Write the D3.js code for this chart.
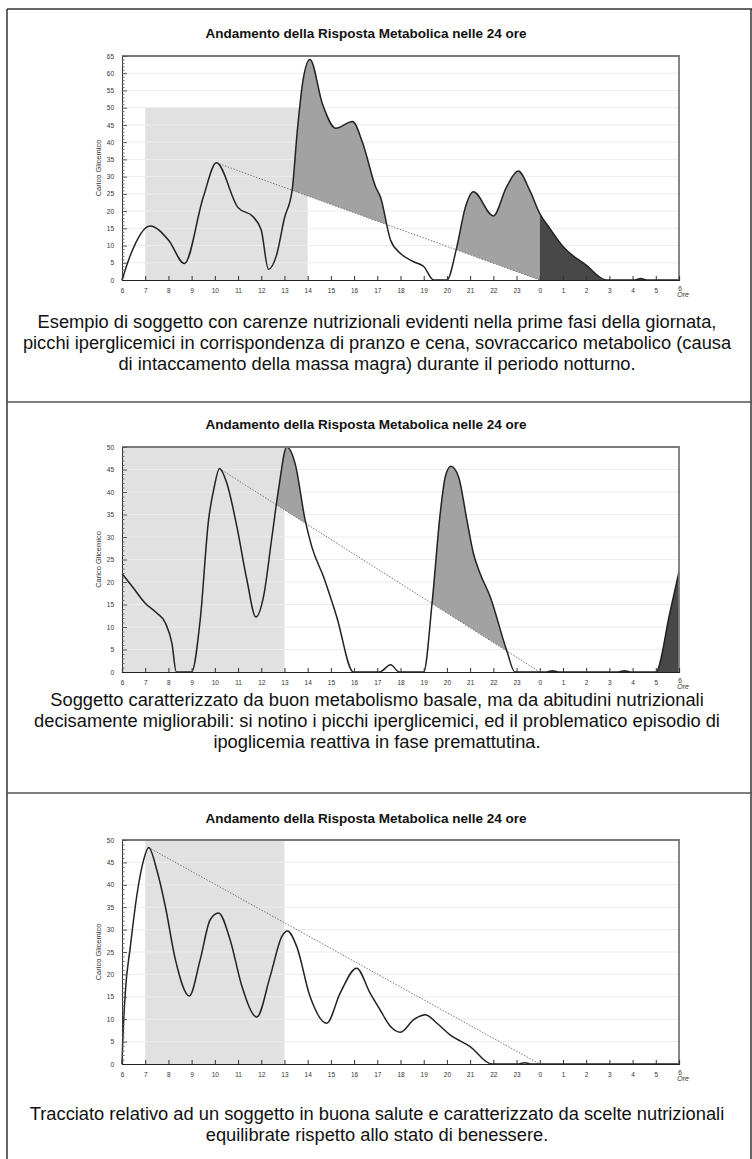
<!DOCTYPE html>
<html><head><meta charset="utf-8">
<script src="https://cdn.jsdelivr.net/npm/d3@7"></script>
<style>body{margin:0;background:#fff}svg{display:block}</style>
</head><body>
<svg id="c" width="752" height="1159"></svg>
<script>
// ---------- data ----------
const titleText = "Andamento della Risposta Metabolica nelle 24 ore";
const yAxisTitle = "Carico Glicemico";
const xUnit = "Ore";
const hourTicks = d3.range(6, 31);
const hourLabels = hourTicks.map(h => String(h % 24));

// Panel 1
const p1Hours = [6, 6.36, 7.21, 8, 8.69, 9.5, 10.07, 11, 11.64, 12, 12.31, 12.65, 13.0, 13.33, 13.55, 13.8, 14.1, 14.64, 15.21, 15.93, 16.36, 16.93, 17.14, 17.57, 18, 18.57, 19, 19.43, 20, 20.43, 20.79, 21.14, 22, 22.57, 23.07, 23.57, 24, 24.43, 25, 26, 26.86, 28.1, 28.35, 28.6, 30];
const p1Load  = [0, 7.2, 15.7, 11.6, 4.8, 24, 34, 21, 18.4, 14.5, 3.1, 7, 18, 26, 43, 58, 64, 51, 44, 46, 40, 27, 24, 11.6, 7.7, 5.3, 3.9, 0, 0, 9.7, 21, 25.6, 18.6, 27, 31.6, 26, 19.3, 15, 9.7, 4.3, 0, 0, 0.4, 0, 0];
const p1Peak = [10.07, 34];
const p1Band = [7, 14, 50];
const p1Max = 65;
const p1Caption = [
  "Esempio di soggetto con carenze nutrizionali evidenti nella prime fasi della giornata,",
  "picchi iperglicemici in corrispondenza di pranzo e cena, sovraccarico metabolico (causa",
  "di intaccamento della massa magra) durante il periodo notturno."
];

// Panel 2
const p2Hours = [6, 6.5, 7, 7.5, 7.87, 8.15, 8.34, 9.0, 9.37, 9.73, 9.97, 10.2, 10.52, 10.95, 11.38, 11.77, 12.1, 12.46, 12.74, 13.1, 13.46, 13.89, 14.18, 14.68, 15.25, 15.97, 17.1, 17.57, 17.95, 19.0, 19.36, 19.71, 19.93, 20.17, 20.5, 20.86, 21.14, 21.43, 21.86, 22.57, 22.93, 24.3, 24.55, 24.8, 27.4, 27.65, 27.9, 29.0, 29.6, 30];
const p2Load  = [21.9, 18.6, 15.3, 13.1, 10.9, 6.4, 0, 0, 11.6, 33.8, 41, 45.2, 41.9, 32.3, 20.5, 12.2, 16.8, 30, 40.4, 50, 46.3, 33.8, 27.8, 21.2, 12.3, 0, 0, 1.6, 0, 0, 15.3, 35.2, 43.4, 45.7, 43.4, 33.8, 26.4, 21.9, 16.8, 4.9, 0, 0, 0.3, 0, 0, 0.3, 0, 0, 13, 22.3];
const p2Peak = [10.2, 45.2];
const p2Band = [6, 13, 50];
const p2Max = 50;
const p2Caption = [
  "Soggetto caratterizzato da buon metabolismo basale, ma da abitudini nutrizionali",
  "decisamente migliorabili: si notino i picchi iperglicemici, ed il problematico episodio di",
  "ipoglicemia reattiva in fase premattutina."
];

// Panel 3
const p3Hours = [6, 6.03, 6.14, 6.36, 6.65, 6.93, 7.15, 7.5, 7.87, 8.3, 8.9, 9.37, 9.8, 10.16, 10.66, 11.17, 11.81, 12.38, 12.89, 13.13, 13.53, 14.1, 14.82, 15.4, 16.11, 16.69, 17.13, 17.55, 18.0, 18.57, 19.07, 19.57, 20.14, 21, 21.93, 23.1, 23.35, 23.6, 30];
const p3Load  = [0, 4.7, 15.8, 26.2, 38, 45.5, 48.3, 43.3, 35.1, 23.3, 15.2, 23.3, 32.2, 33.7, 27.7, 17.3, 10.5, 19.5, 28.5, 29.7, 26.2, 15.1, 9.1, 15.8, 21.4, 15.8, 12, 8.5, 7.1, 9.9, 11, 9.1, 6.5, 3.9, 0, 0, 0.3, 0, 0];
const p3Peak = [7.15, 48.3];
const p3Band = [7, 13, 50];
const p3Max = 50;
const p3Caption = [
  "Tracciato relativo ad un soggetto in buona salute e caratterizzato da scelte nutrizionali",
  "equilibrate rispetto allo stato di benessere."
];

const lineEnd = 24; // dotted decay line reaches zero at midnight

// ---------- layout ----------
const panels = [
  {hours:p1Hours, load:p1Load, peak:p1Peak, band:p1Band, yMax:p1Max, caption:p1Caption, top:56, bottom:280, titleY:38, capY:[328,349,370]},
  {hours:p2Hours, load:p2Load, peak:p2Peak, band:p2Band, yMax:p2Max, caption:p2Caption, top:447, bottom:672, titleY:429, capY:[706,727,748]},
  {hours:p3Hours, load:p3Load, peak:p3Peak, band:p3Band, yMax:p3Max, caption:p3Caption, top:840, bottom:1064, titleY:823, capY:[1120,1141]}
];
const L = 122, R = 679;
const svg = d3.select("#c");

// outer frame
const frame = svg.append("g").attr("stroke", "#333").attr("stroke-width", 1.5).attr("fill", "none");
frame.append("line").attr("x1", 7).attr("x2", 752).attr("y1", 9).attr("y2", 9);
frame.append("line").attr("x1", 7).attr("x2", 7).attr("y1", 9).attr("y2", 1159);
frame.append("line").attr("x1", 751).attr("x2", 751).attr("y1", 9).attr("y2", 1159);
[402, 793].forEach(yy => frame.append("line").attr("x1", 7).attr("x2", 752).attr("y1", yy).attr("y2", yy).attr("stroke", "#555"));

panels.forEach((p, i) => {
  const g = svg.append("g");
  const x = d3.scaleLinear([6, 30], [L, R]);
  const y = d3.scaleLinear([0, p.yMax], [p.bottom, p.top]);
  const pts = p.hours.map((h, k) => [h, p.load[k]]);

  // title
  g.append("text").attr("x", 366).attr("y", p.titleY).attr("text-anchor", "middle")
    .attr("font-family", "Liberation Sans, Arial, sans-serif").attr("font-weight", "bold")
    .attr("font-size", 13.5).attr("fill", "#111").text(titleText);

  // band
  g.append("rect").attr("x", x(p.band[0])).attr("width", x(p.band[1]) - x(p.band[0]))
    .attr("y", y(p.band[2])).attr("height", y(0) - y(p.band[2])).attr("fill", "#e1e1e1");

  // gridlines
  const yTicks = d3.range(0, p.yMax + 1, 5);
  g.append("g").selectAll("line").data(yTicks.slice(1)).join("line")
    .attr("x1", L).attr("x2", R).attr("y1", d => y(d)).attr("y2", d => y(d))
    .attr("stroke", "#ececec").attr("stroke-width", 1);

  // clips
  const clipA = "clipA" + i, clipB = "clipB" + i;
  const defs = g.append("defs");
  defs.append("clipPath").attr("id", clipA).append("polygon")
    .attr("points", [[x(p.peak[0]), y(p.peak[1])], [x(lineEnd), y(0)], [x(lineEnd), p.top - 5], [x(p.peak[0]), p.top - 5]].map(d => d.join(",")).join(" "));
  defs.append("clipPath").attr("id", clipB).append("rect")
    .attr("x", x(lineEnd)).attr("y", p.top).attr("width", R - x(lineEnd)).attr("height", p.bottom - p.top);

  const area = d3.area().x(d => x(d[0])).y0(y(0)).y1(d => y(d[1])).curve(d3.curveMonotoneX);
  const line = d3.line().x(d => x(d[0])).y(d => y(d[1])).curve(d3.curveMonotoneX);

  g.append("path").datum(pts).attr("d", area).attr("fill", "#a2a2a2").attr("clip-path", `url(#${clipA})`);
  g.append("path").datum(pts).attr("d", area).attr("fill", "#484848").attr("clip-path", `url(#${clipB})`);

  // dotted decay line
  g.append("line").attr("x1", x(p.peak[0])).attr("y1", y(p.peak[1])).attr("x2", x(lineEnd)).attr("y2", y(0))
    .attr("stroke", "#777").attr("stroke-width", 1).attr("stroke-dasharray", "1.5,1.5");

  // curve
  g.append("path").datum(pts).attr("d", line).attr("fill", "none").attr("stroke", "#222").attr("stroke-width", 1.5);

  // plot frame top/right
  g.append("path").attr("d", `M${L},${p.top}H${R}V${p.bottom}`).attr("fill", "none").attr("stroke", "#7a7a7a").attr("stroke-width", 1.8);

  // y axis (ticks inside)
  const ya = g.append("g").attr("transform", `translate(${L},0)`)
    .call(d3.axisLeft(y).tickValues(yTicks).tickSize(-5).tickPadding(8).tickFormat(d3.format("d")));
  ya.select(".domain").attr("stroke", "#333");
  ya.selectAll("text").attr("font-family", "Liberation Sans, Arial, sans-serif").attr("font-size", 6.5).attr("fill", "#333");
  ya.selectAll("line").attr("stroke", "#555");
  g.append("g").attr("transform", `translate(${L},0)`)
    .call(d3.axisLeft(y).tickValues(d3.range(0, p.yMax + 1, 1).filter(v => v % 5)).tickSize(-2.5).tickFormat(""))
    .call(s => s.select(".domain").remove()).selectAll("line").attr("stroke", "#666");

  // x axis (ticks inside)
  const xa = g.append("g").attr("transform", `translate(0,${p.bottom})`)
    .call(d3.axisBottom(x).tickValues(hourTicks).tickSize(-4).tickPadding(8)
      .tickFormat((d, k) => k === hourTicks.length - 1 ? "" : hourLabels[k]));
  xa.select(".domain").attr("stroke", "#222").attr("stroke-width", 1.2);
  xa.selectAll("line").attr("stroke", "#333");
  xa.selectAll("text").attr("font-family", "Liberation Sans, Arial, sans-serif").attr("font-size", 6.5).attr("fill", "#333");
  g.append("text").attr("x", x(30) + 1).attr("y", p.bottom + 11).attr("text-anchor", "middle")
    .attr("font-family", "Liberation Sans, Arial, sans-serif").attr("font-size", 6.5).attr("fill", "#333").text(hourLabels[hourLabels.length - 1]);
  g.append("text").attr("x", x(30) + 10).attr("y", p.bottom + 17).attr("text-anchor", "end")
    .attr("font-family", "Liberation Sans, Arial, sans-serif").attr("font-style", "italic").attr("font-size", 7).attr("fill", "#333").text(xUnit);

  // y axis title
  g.append("text").attr("transform", `translate(101,${(p.top + p.bottom) / 2}) rotate(-90)`).attr("text-anchor", "middle")
    .attr("font-family", "Liberation Sans, Arial, sans-serif").attr("font-size", 7.5).attr("fill", "#333").text(yAxisTitle);

  // caption
  g.append("g").selectAll("text").data(p.caption).join("text")
    .attr("x", 377).attr("y", (d, k) => p.capY[k]).attr("text-anchor", "middle")
    .attr("font-family", "Liberation Sans, Arial, sans-serif").attr("font-size", 18.3).attr("fill", "#111").text(d => d);
});
</script>
</body></html>
